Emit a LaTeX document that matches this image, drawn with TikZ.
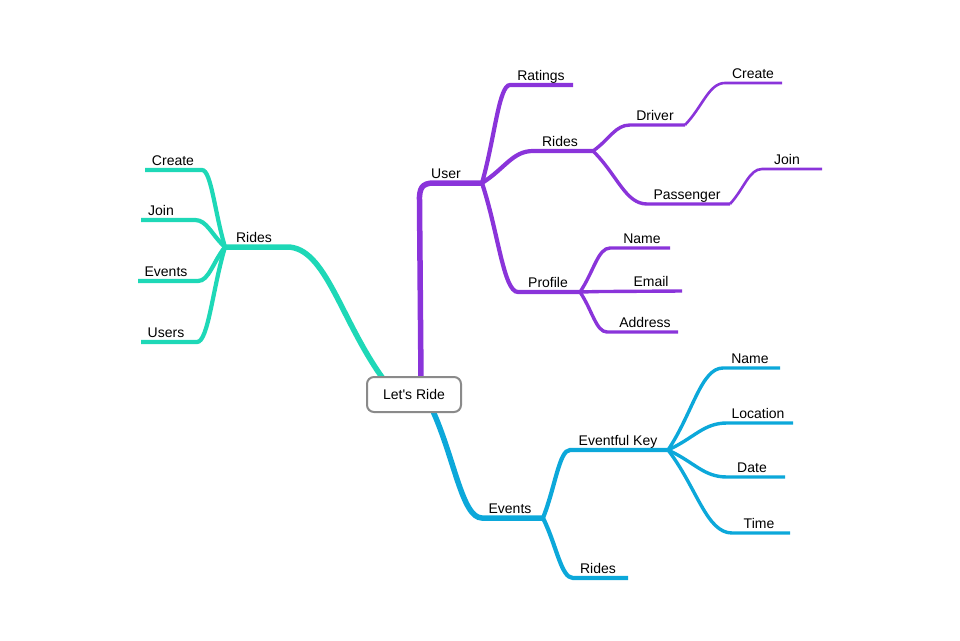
\documentclass[tikz,border=0pt]{standalone}
\usepackage{fontspec}
\setmainfont{Liberation Sans}
\usetikzlibrary{calc,backgrounds}
\definecolor{mmteal}{RGB}{30,216,183}
\definecolor{mmpurple}{RGB}{138,52,218}
\definecolor{mmblue}{RGB}{12,168,218}
\definecolor{mmgray}{RGB}{138,138,138}
\newcommand\mmbranch[4]{\draw[#1] (#2) .. controls ($(#2)!0.45!(#3)$) and ($(#3)!0.4!(#2 |- #3)$) .. (#3) -- (#4);}
\begin{document}
\begin{tikzpicture}[x=1pt,y=-1pt,line cap=round,line join=round,
  lbl/.style={anchor=base,inner sep=0pt,font=\fontsize{14}{16}\selectfont},
  rootbox/.style={draw=mmgray,line width=2pt,fill=white,rounded corners=7pt,minimum width=94pt,minimum height=35pt,inner sep=0pt,font=\fontsize{14}{16}\selectfont},
  wa/.style={line width=5.5pt},
  wb/.style={line width=4.2pt},
  wc/.style={line width=3.4pt},
  wd/.style={line width=2.6pt}]
\useasboundingbox (0,0) rectangle (960,640);
\node[rootbox] (root) at (414,394.5) {Let\textquotesingle s Ride};

% teal coordinates
\coordinate (tR) at ($(root.north west)+(18,4)$);
\coordinate (tA) at (287,247);
\coordinate (tJ) at (225,247);
\coordinate (tcS) at (202,170); \coordinate (tcE) at (145,170);
\coordinate (tjS) at (195,220); \coordinate (tjE) at (141,220);
\coordinate (teS) at (198,281); \coordinate (teE) at (138,281);
\coordinate (tuS) at (197,342); \coordinate (tuE) at (141,342);
% purple coordinates
\coordinate (pR) at ($(root.north)+(7,4)$);
\coordinate (pV) at (419.5,202);
\coordinate (pU) at (434,183);
\coordinate (pJ) at (482,183);
\coordinate (prS) at (510,85); \coordinate (prE) at (573,85);
\coordinate (pdS) at (533,151); \coordinate (pdJ) at (593,151);
\coordinate (ppS) at (518,292); \coordinate (ppJ) at (580,292);
\coordinate (pdrS) at (630,125); \coordinate (pdrJ) at (685,125);
\coordinate (ppaS) at (647,204); \coordinate (ppaJ) at (730,204);
\coordinate (pcS) at (725,83); \coordinate (pcE) at (782,83);
\coordinate (pjS) at (762,169); \coordinate (pjE) at (822,169);
\coordinate (pnS) at (610,248); \coordinate (pnE) at (670,248);
\coordinate (pmS) at (605,291.5); \coordinate (pmE) at (682,291);
\coordinate (paS) at (607,332); \coordinate (paE) at (678,332);
% blue coordinates
\coordinate (bR) at ($(root.south)+(18,-4)$);
\coordinate (bS) at (482,518); \coordinate (bJ) at (543,518);
\coordinate (bkS) at (570,450); \coordinate (bkJ) at (668,450);
\coordinate (brS) at (573,578); \coordinate (brE) at (628,578);
\coordinate (bnS) at (723,368); \coordinate (bnE) at (780,368);
\coordinate (blS) at (727,423); \coordinate (blE) at (793,423);
\coordinate (bdS) at (727,477); \coordinate (bdE) at (785,477);
\coordinate (btS) at (732,533); \coordinate (btE) at (790,533);

\begin{pgfonlayer}{background}
% teal
\mmbranch{mmteal,wa}{tR}{tA}{tJ}
\mmbranch{mmteal,wb}{tJ}{tcS}{tcE}
\mmbranch{mmteal,wb}{tJ}{tjS}{tjE}
\mmbranch{mmteal,wb}{tJ}{teS}{teE}
\mmbranch{mmteal,wb}{tJ}{tuS}{tuE}
% purple
\draw[mmpurple,wa] (pR) -- (pV) .. controls (419,188) and (422,183) .. (pU) -- (pJ);
\mmbranch{mmpurple,wb}{pJ}{prS}{prE}
\mmbranch{mmpurple,wb}{pJ}{pdS}{pdJ}
\mmbranch{mmpurple,wb}{pJ}{ppS}{ppJ}
\mmbranch{mmpurple,wc}{pdJ}{pdrS}{pdrJ}
\mmbranch{mmpurple,wc}{pdJ}{ppaS}{ppaJ}
\mmbranch{mmpurple,wd}{pdrJ}{pcS}{pcE}
\mmbranch{mmpurple,wd}{ppaJ}{pjS}{pjE}
\mmbranch{mmpurple,wc}{ppJ}{pnS}{pnE}
\mmbranch{mmpurple,wc}{ppJ}{pmS}{pmE}
\mmbranch{mmpurple,wc}{ppJ}{paS}{paE}
% blue
\mmbranch{mmblue,wa}{bR}{bS}{bJ}
\mmbranch{mmblue,wb}{bJ}{bkS}{bkJ}
\mmbranch{mmblue,wb}{bJ}{brS}{brE}
\mmbranch{mmblue,wc}{bkJ}{bnS}{bnE}
\mmbranch{mmblue,wc}{bkJ}{blS}{blE}
\mmbranch{mmblue,wc}{bkJ}{bdS}{bdE}
\mmbranch{mmblue,wc}{bkJ}{btS}{btE}
\end{pgfonlayer}

% labels
\node[lbl] (lTRides) at (254,242.5) {Rides};
\node[lbl] (lTCreate) at (173,165.5) {Create};
\node[lbl] (lTJoin) at (161,215.5) {Join};
\node[lbl] (lTEvents) at (166,276) {Events};
\node[lbl] (lTUsers) at (166,337) {Users};

\node[lbl] (lPUser) at (446,178) {User};
\node[lbl] (lPRatings) at (541,80) {Ratings};
\node[lbl] (lPRides) at (560,146) {Rides};
\node[lbl] (lPProfile) at (548,287) {Profile};
\node[lbl] (lPDriver) at (655,120) {Driver};
\node[lbl] (lPCreate) at (753,78) {Create};
\node[lbl] (lPPassenger) at (687,199) {Passenger};
\node[lbl] (lPJoin) at (787,164) {Join};
\node[lbl] (lPName) at (642,243) {Name};
\node[lbl] (lPEmail) at (651,286) {Email};
\node[lbl] (lPAddress) at (645,327) {Address};

\node[lbl] (lBEvents) at (510,513) {Events};
\node[lbl] (lBKey) at (618,445) {Eventful Key};
\node[lbl] (lBRides) at (598,573) {Rides};
\node[lbl] (lBName) at (750,363) {Name};
\node[lbl] (lBLocation) at (758,418) {Location};
\node[lbl] (lBDate) at (752,472) {Date};
\node[lbl] (lBTime) at (759,528) {Time};
\end{tikzpicture}
\end{document}
